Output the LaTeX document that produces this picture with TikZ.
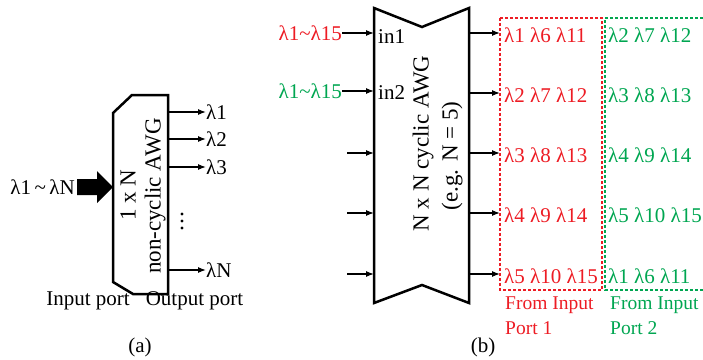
\documentclass[tikz,border=0pt]{standalone}
\usepackage{fontspec}
\setmainfont{Liberation Serif}
\usetikzlibrary{arrows.meta}
\definecolor{pred}{RGB}{237,28,36}
\definecolor{pgreen}{RGB}{0,166,81}
\begin{document}
\begin{tikzpicture}[x=1pt,y=-1pt,
  txt/.style={inner sep=0pt, font=\fontsize{21}{24}\selectfont},
  stxt/.style={inner sep=0pt, font=\fontsize{19.5}{22}\selectfont},
  rtxt/.style={inner sep=0pt, rotate=90, font=\fontsize{23}{26}\selectfont},
  awg/.style={line width=2.5pt, line join=miter},
  arr/.style={line width=1.2pt, -{Latex[length=8pt,width=6pt]}},
  boxline/.style={line width=1.2pt, dash pattern=on 3pt off 2pt}]
\useasboundingbox (0,0) rectangle (703,359);

% ---------- panel (a) ----------
\draw[awg] (132,95) -- (168,95) -- (168,294) -- (133,294) -- (113,282) -- (113,113) -- cycle;
\node[rtxt] (a1) at (128,195) {1 x N};
\node[rtxt] (a2) at (155,196) {non-cyclic AWG};
\fill (77,179) -- (97,179) -- (97,171) -- (113,187) -- (97,203) -- (97,195) -- (77,195) -- cycle;
\node[txt, anchor=east] (ain) at (75,187) {λ1\,\textasciitilde\,λN};

\coordinate (ao1) at (168,112);
\coordinate (ao2) at (168,139);
\coordinate (ao3) at (168,167);
\coordinate (ao4) at (168,270);
\node[txt, anchor=west] (al1) at (206,112) {λ1};
\node[txt, anchor=west] (al2) at (206,139) {λ2};
\node[txt, anchor=west] (al3) at (206,167) {λ3};
\node[txt, anchor=west] (al4) at (206,270) {λN};
\draw[arr] (ao1) -- (al1.west);
\draw[arr] (ao2) -- (al2.west);
\draw[arr] (ao3) -- (al3.west);
\draw[arr] (ao4) -- (al4.west);
\fill (182,214) circle (1.7);
\fill (182,221) circle (1.7);
\fill (182,228) circle (1.7);

\node[txt] (inport) at (88,301) {Input port};
\node[txt] (outport) at (194.5,301) {Output port};
\node[txt] (capa) at (140,347) {(a)};

% ---------- panel (b) ----------
\draw[awg] (374,8) -- (422,27) -- (469,8) -- (469,303) -- (422,285) -- (374,303) -- cycle;
\node[rtxt] (b1) at (423,143.5) {N x N cyclic AWG};
\node[rtxt] (b2) at (452,156) {(e.g. N = 5)};
\node[txt, anchor=west] (in1) at (378,37) {in1};
\node[txt, anchor=west] (in2) at (378,93) {in2};

\node[txt, anchor=east, text=pred] (src1) at (342,33) {λ1\textasciitilde λ15};
\node[txt, anchor=east, text=pgreen] (src2) at (342,91) {λ1\textasciitilde λ15};
\coordinate (bi1) at (374,33);
\coordinate (bi2) at (374,91);
\coordinate (bi3) at (374,153);
\coordinate (bi4) at (374,213);
\coordinate (bi5) at (374,274);
\coordinate (bs3) at (347,153);
\coordinate (bs4) at (347,213);
\coordinate (bs5) at (347,274);
\draw[arr] (src1.east) -- (bi1);
\draw[arr] (src2.east) -- (bi2);
\draw[arr] (bs3) -- (bi3);
\draw[arr] (bs4) -- (bi4);
\draw[arr] (bs5) -- (bi5);

\coordinate (bo1) at (469,33);
\coordinate (bo2) at (469,93);
\coordinate (bo3) at (469,153);
\coordinate (bo4) at (469,213);
\coordinate (bo5) at (469,274);
\coordinate (bt1) at (500,33);
\coordinate (bt2) at (500,93);
\coordinate (bt3) at (500,153);
\coordinate (bt4) at (500,213);
\coordinate (bt5) at (500,274);
\draw[arr] (bo1) -- (bt1);
\draw[arr] (bo2) -- (bt2);
\draw[arr] (bo3) -- (bt3);
\draw[arr] (bo4) -- (bt4);
\draw[arr] (bo5) -- (bt5);

\draw[boxline, pred] (500,18) rectangle (602,290);
\draw[boxline, pgreen] (703,18) -- (605,18) -- (605,290) -- (703,290);

\node[txt, anchor=west, text=pred] (r1) at (504,35) {λ1 λ6 λ11};
\node[txt, anchor=west, text=pred] (r2) at (504,95) {λ2 λ7 λ12};
\node[txt, anchor=west, text=pred] (r3) at (504,155) {λ3 λ8 λ13};
\node[txt, anchor=west, text=pred] (r4) at (504,215) {λ4 λ9 λ14};
\node[txt, anchor=west, text=pred] (r5) at (504,276) {λ5 λ10 λ15};
\node[txt, anchor=west, text=pgreen] (g1) at (608,35) {λ2 λ7 λ12};
\node[txt, anchor=west, text=pgreen] (g2) at (608,95) {λ3 λ8 λ13};
\node[txt, anchor=west, text=pgreen] (g3) at (608,155) {λ4 λ9 λ14};
\node[txt, anchor=west, text=pgreen] (g4) at (608,215) {λ5 λ10 λ15};
\node[txt, anchor=west, text=pgreen] (g5) at (608,276) {λ1 λ6 λ11};

\node[stxt, anchor=west, text=pred] (fr1) at (505,305) {From Input};
\node[stxt, anchor=west, text=pred] (fr2) at (505,328) {Port 1};
\node[stxt, anchor=west, text=pgreen] (fg1) at (610,305) {From Input};
\node[stxt, anchor=west, text=pgreen] (fg2) at (610,328) {Port 2};

\node[txt] (capb) at (483,347) {(b)};
\end{tikzpicture}
\end{document}
